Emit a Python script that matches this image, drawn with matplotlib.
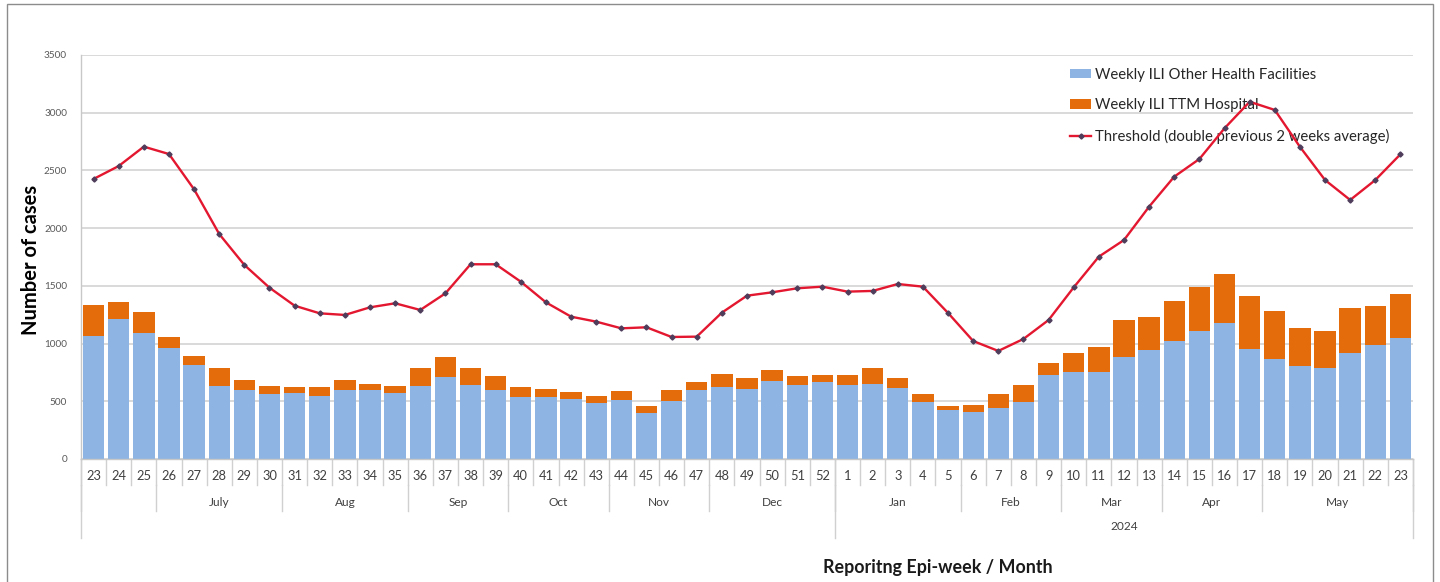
import matplotlib
matplotlib.use("Agg")
import matplotlib.pyplot as plt
import matplotlib.transforms as mtransforms
from matplotlib.patches import Rectangle
import numpy as np

# ---------------- data ----------------
weeks = ["23", "24", "25", "26", "27", "28", "29", "30", "31", "32", "33", "34", "35",
         "36", "37", "38", "39", "40", "41", "42", "43", "44", "45", "46", "47",
         "48", "49", "50", "51", "52", "1", "2", "3", "4", "5", "6", "7", "8", "9",
         "10", "11", "12", "13", "14", "15", "16", "17", "18", "19", "20", "21", "22", "23"]

other_facilities = [1068, 1213, 1089, 959, 814, 635, 598, 563, 569, 549, 598, 598, 569,
                    632, 708, 638, 598, 540, 540, 520, 488, 511, 401, 505, 598,
                    621, 606, 678, 644, 670, 638, 650, 612, 494, 424, 404, 445, 497, 728,
                    757, 757, 887, 944, 1022, 1109, 1181, 953, 866, 806, 791, 921, 988, 1045]

totals = [1334, 1363, 1271, 1054, 892, 786, 684, 632, 621, 621, 684, 653, 635,
          791, 881, 791, 722, 621, 606, 583, 549, 592, 462, 595, 670,
          733, 704, 768, 719, 725, 725, 786, 699, 566, 456, 468, 563, 641, 829,
          916, 973, 1204, 1233, 1369, 1493, 1603, 1415, 1282, 1132, 1109, 1311, 1326, 1427]
ttm_hospital = [t - o for t, o in zip(totals, other_facilities)]

threshold = [2426, 2538, 2706, 2642, 2336, 1949, 1681, 1484, 1328, 1262, 1248, 1314, 1349,
             1291, 1435, 1687, 1687, 1536, 1357, 1233, 1190, 1132, 1141, 1057, 1060,
             1268, 1415, 1444, 1479, 1493, 1450, 1456, 1516, 1493, 1265, 1022, 936, 1040, 1204,
             1487, 1753, 1897, 2186, 2446, 2599, 2865, 3095, 3024, 2705, 2417, 2244, 2417, 2640]

months = ["", "July", "Aug", "Sep", "Oct", "Nov", "Dec", "Jan", "Feb", "Mar", "Apr", "May"]
month_sizes = [3, 5, 5, 4, 4, 4, 5, 5, 4, 4, 4, 6]
years = ["", "2024"]
year_sizes = [30, 23]

yticks = [0, 500, 1000, 1500, 2000, 2500, 3000, 3500]

# ---------------- style ----------------
BLUE = "#8DB4E2"
ORANGE = "#E46C0A"
RED = "#E3172F"
MARK = "#4F3D5C"
GRID = "#D9D9D9"
TXT = "#404040"
FONT = ["Lato", "DejaVu Sans"]
plt.rcParams["font.family"] = FONT

W, H = 1440, 582
fig = plt.figure(figsize=(W / 100, H / 100), dpi=100)
fig.patch.set_facecolor("white")

ax_l, ax_r, ax_b, ax_t = 81, 1413, 459, 55
ax = fig.add_axes([ax_l / W, (H - ax_b) / H, (ax_r - ax_l) / W, (ax_b - ax_t) / H])
ax_h_px = ax_b - ax_t

x = np.arange(len(weeks))
b1 = ax.bar(x, other_facilities, width=0.85, color=BLUE, zorder=2,
            label="Weekly ILI Other Health Facilities")
b2 = ax.bar(x, ttm_hospital, width=0.85, bottom=other_facilities, color=ORANGE, zorder=2,
            label="Weekly ILI TTM Hospital")
ln, = ax.plot(x, threshold, color=RED, lw=1.7, marker="D", markersize=2.6,
              markerfacecolor=MARK, markeredgecolor=MARK, zorder=5,
              label="Threshold (double previous 2 weeks average)")

ax.set_xlim(-0.5, len(weeks) - 0.5)
ax.set_ylim(0, 3500)
ax.set_yticks(yticks)
ax.set_yticklabels([str(v) for v in yticks], fontsize=7.2, color="#595959")
ax.tick_params(axis="y", length=0, pad=10)
ax.set_xticks([])
ax.yaxis.grid(True, color=GRID, lw=1.4, zorder=0)
ax.set_axisbelow(True)
for s in ["top", "right"]:
    ax.spines[s].set_visible(False)
ax.spines["left"].set_color("#C8C8C8")
ax.spines["bottom"].set_color("#C8C8C8")
ax.spines["left"].set_linewidth(1.0)
ax.spines["bottom"].set_linewidth(1.0)

# ---------------- multi-level category axis ----------------
tr = mtransforms.blended_transform_factory(ax.transData, ax.transAxes)
def fy(px):
    return -px / ax_h_px

SEP = "#D0D0D0"
for k in range(len(weeks) + 1):
    ax.plot([k - 0.5, k - 0.5], [0, fy(26)], transform=tr, color=SEP, lw=1.0, clip_on=False)
for i, w in enumerate(weeks):
    ax.text(i, fy(17), w, transform=tr, ha="center", va="center", fontsize=9.3, color=TXT)

start = 0
bounds = [0]
for name, n in zip(months, month_sizes):
    c = start + (n - 1) / 2
    ax.text(c, fy(44), name, transform=tr, ha="center", va="center", fontsize=8.6, color=TXT)
    start += n
    bounds.append(start)
for bnd in bounds:
    ax.plot([bnd - 0.5, bnd - 0.5], [fy(26), fy(52)], transform=tr, color=SEP, lw=1.0,
            clip_on=False)

start = 0
ybounds = [0]
for name, n in zip(years, year_sizes):
    c = start + (n - 1) / 2
    ax.text(c, fy(68), name, transform=tr, ha="center", va="center", fontsize=8.6, color=TXT)
    start += n
    ybounds.append(start)
for bnd in ybounds:
    ax.plot([bnd - 0.5, bnd - 0.5], [0, fy(79)], transform=tr, color=SEP, lw=1.0,
            clip_on=False)

# ---------------- labels ----------------
fig.text(31 / W, 1 - 260 / H, "Number of cases", rotation=90, ha="center", va="center",
         fontsize=14.5, fontweight="bold", color="black")
fig.text(938 / W, 1 - 567 / H, "Reporitng Epi-week / Month", ha="center", va="center",
         fontsize=12.9, fontweight="bold", color="#1a1a1a")

# ---------------- legend ----------------
leg = ax.legend(handles=[b1, b2, ln], loc="upper left",
                bbox_to_anchor=(1058 / W, 1 - 56 / H), bbox_transform=fig.transFigure,
                frameon=False, fontsize=10.7, labelspacing=1.1, handlelength=1.45,
                handleheight=0.6, handletextpad=0.22, borderpad=0.3,
                labelcolor="#262626")
leg.set_zorder(3)

# ---------------- outer border ----------------
fig.patches.append(Rectangle((7 / W, -0.05), (1433 - 7) / W, 1.05 - 4 / H,
                             transform=fig.transFigure, fill=False,
                             edgecolor="#8C8C8C", lw=1.0))

fig.savefig("out.png", dpi=100)
